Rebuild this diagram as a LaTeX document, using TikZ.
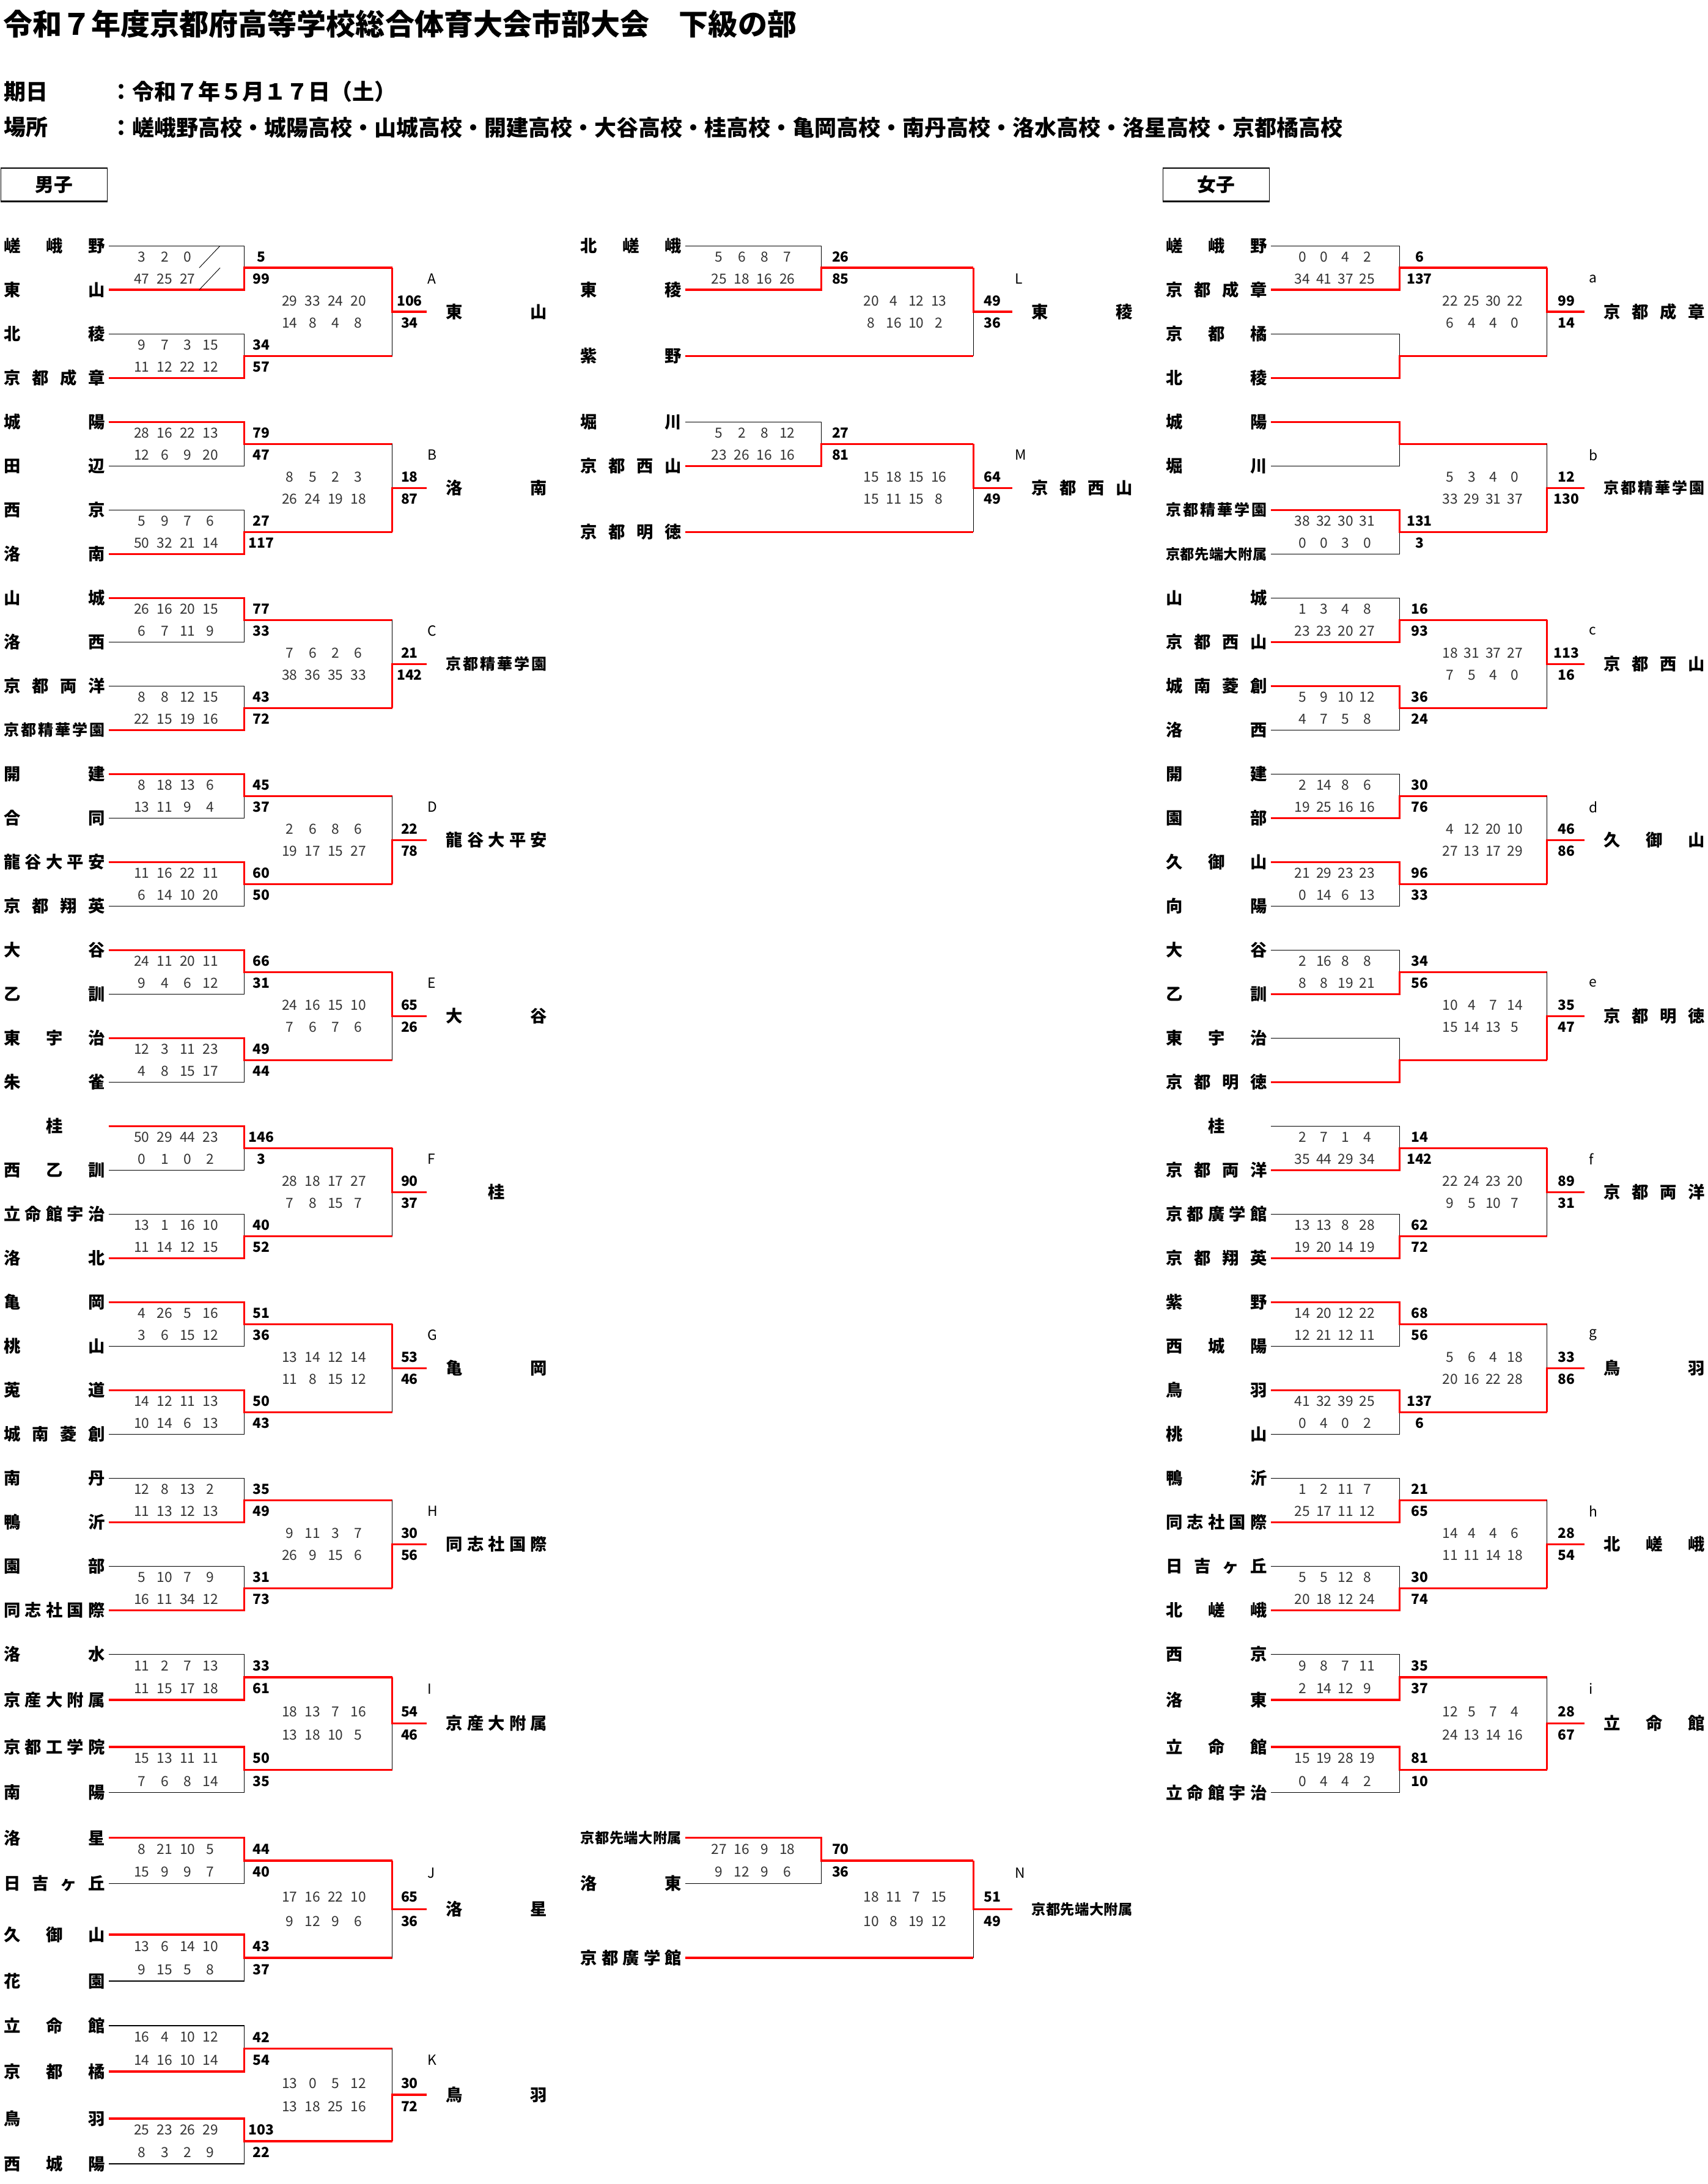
\documentclass[tikz,border=0pt]{standalone}
\usepackage{fontspec}
\setmainfont{Noto Sans CJK JP}
\usetikzlibrary{calc}

% spread a school name over the name column (smaller type for long names)
\makeatletter
\newcount\nch
\def\cnt@a#1#2\@nil{\advance\nch by 1 \ifx\relax#2\relax\else\cnt@a#2\@nil\fi}
\def\spr@a#1#2\@nil{#1\ifx\relax#2\relax\else\hfill\spr@a#2\@nil\fi}
\def\spr@top#1#2\@nil{\ifx\relax#2\relax\hfill#1\hfill\else\spr@a#1#2\@nil\fi}
\newcommand\spread[1]{%
  \nch=0 \expandafter\cnt@a#1\@nil
  \ifnum\nch>6 \fontsize{10.2}{12}\selectfont\else\ifnum\nch>5 \fontsize{11}{13}\selectfont\fi\fi
  \makebox[72.5pt][s]{\expandafter\spr@top#1\@nil}}
\makeatother

% y of a node or coordinate, in picture units
\newdimen\gy
\newcommand\getY[2]{\pgfextracty{\gy}{\pgfpointanchor{#1}{center}}\pgfmathsetmacro#2{-\gy}}

% first round: top team, bottom team, winner (1/2), sets top, sets bottom, total top, total bottom
\newcommand\rone[7]{%
  \getY{#1}\ya \getY{#2}\yb
  \pgfmathsetmacro\ym{(\ya+\yb)/2}
  \pgfmathsetmacro\yq{(\yb-\ya)/4}
  \coordinate (#1-j) at (\xc,\ym);
  \draw[lose] ([xshift=2.5]#1.east) -- (\xb,\ya) -- (\xb,\yb) -- ([xshift=2.5]#2.east);
  \ifnum#3=1\relax
    \draw[win] ([xshift=2.5]#1.east) -- (\xb,\ya) -- (\xb,\ym) -- (#1-j);
  \else
    \draw[win] ([xshift=2.5]#2.east) -- (\xb,\yb) -- (\xb,\ym) -- (#1-j);
  \fi
  \foreach \sv [count=\kk from 0] in {#4} \node[setno] at ({\sA+\kk*\sd},{\ya+\yq}) {\sv};
  \foreach \sv [count=\kk from 0] in {#5} \node[setno] at ({\sA+\kk*\sd},{\ya+3*\yq}) {\sv};
  \node[totno] at (\tA,{\ya+\yq}) {#6};
  \node[totno] at (\tA,{\ya+3*\yq}) {#7};
}

% team that goes straight to the second round
\newcommand\bye[1]{%
  \getY{#1}\ya
  \coordinate (#1-j) at (\xc,\ya);
  \draw[win] ([xshift=2.5]#1.east) -- (#1-j);
}

% second round: top junction, bottom junction, winner (1/2), sets top, sets bottom, total top, total bottom, label, winner name
\newcommand\rtwo[9]{%
  \getY{#1}\ya \getY{#2}\yb
  \pgfmathsetmacro\ym{(\ya+\yb)/2}
  \pgfmathsetmacro\yq{(\yb-\ya)/8}
  \node[tname] (#8-w) at (\xw,\ym) {\spread{#9}};
  \draw[lose] (#1) -- (#2);
  \ifnum#3=1\relax
    \draw[win] (#1) -- (\xc,\ym) -- ([xshift=-13.5]#8-w.west);
  \else
    \draw[win] (#2) -- (\xc,\ym) -- ([xshift=-13.5]#8-w.west);
  \fi
  \node[lbl] at (\xl,{\ya+\yq}) {#8};
  \foreach \sv [count=\kk from 0] in {#4} \node[setno] at ({\sB+\kk*\se},{\ym-\yq}) {\sv};
  \foreach \sv [count=\kk from 0] in {#5} \node[setno] at ({\sB+\kk*\se},{\ym+\yq}) {\sv};
  \node[totno] at (\tB,{\ym-\yq}) {#6};
  \node[totno] at (\tB,{\ym+\yq}) {#7};
}

\begin{document}
\begin{tikzpicture}[x=1pt, y=-1pt,
  tname/.style={anchor=west, inner sep=0pt, font=\bfseries\fontsize{12}{14}\selectfont},
  setno/.style={inner sep=0pt, text=black!80, font=\fontsize{10}{12}\selectfont},
  totno/.style={inner sep=0pt, font=\bfseries\fontsize{10}{12}\selectfont},
  lbl/.style={anchor=west, inner sep=0pt, font=\fontsize{10}{12}\selectfont},
  hdr/.style={anchor=west, inner sep=0pt, font=\bfseries\fontsize{15.8}{18}\selectfont},
  sexbox/.style={draw, line width=0.4pt, minimum width=76.5pt, minimum height=23.5pt, inner sep=0pt, font=\bfseries\fontsize{13.5}{16}\selectfont},
  lose/.style={black, line width=0.5pt},
  win/.style={winred, line width=1.5pt}]

  \definecolor{winred}{RGB}{255,0,0}

  % page
  \fill[white] (0,0) rectangle (1225.7,1568);
  \useasboundingbox (0,0) rectangle (1225.7,1568);

  % header
  \node[anchor=west, inner sep=0pt, font=\bfseries\fontsize{21.1}{24}\selectfont] (title) at (2,17.2)
    {令和７年度京都府高等学校総合体育大会市部大会　下級の部};
  \node[hdr] (datek) at (2.5,65.8) {期日};
  \node[hdr] (datev) at (79,65.8) {：令和７年５月１７日（土）};
  \node[hdr] (placek) at (2.5,91.4) {場所};
  \node[hdr] (placev) at (79,91.4) {：嵯峨野高校・城陽高校・山城高校・開建高校・大谷高校・桂高校・亀岡高校・南丹高校・洛水高校・洛星高校・京都橘高校};

  \node[sexbox] (boys) at (38.75,132.7) {男子};
  \node[sexbox] (girls) at (873,132.7) {女子};
  \draw[line width=1pt] (boys.north west) -- (boys.north east) (boys.south west) -- (boys.south east);
  \draw[line width=1pt] (girls.north west) -- (girls.north east) (girls.south west) -- (girls.south east);

  % ---------------- boys, left column ----------------
  \foreach \i/\y/\n in {0/176.5/嵯峨野, 1/208.1/東山, 2/239.7/北稜, 3/271.3/京都成章,
    4/302.9/城陽, 5/334.5/田辺, 6/366.1/西京, 7/397.7/洛南,
    8/429.3/山城, 9/460.9/洛西, 10/492.5/京都両洋, 11/524.1/京都精華学園,
    12/555.7/開建, 13/587.3/合同, 14/618.9/龍谷大平安, 15/650.5/京都翔英,
    16/682.1/大谷, 17/713.7/乙訓, 18/745.3/東宇治, 19/776.9/朱雀,
    20/808.5/桂, 21/840.1/西乙訓, 22/871.7/立命館宇治, 23/903.3/洛北,
    24/934.9/亀岡, 25/966.5/桃山, 26/998.1/莵道, 27/1029.7/城南菱創,
    28/1061.3/南丹, 29/1092.9/鴨沂, 30/1124.5/園部, 31/1156.1/同志社国際,
    32/1187.7/洛水, 33/1220.5/京産大附属, 34/1254.2/京都工学院, 35/1287/南陽,
    36/1319.5/洛星, 37/1352.2/日吉ヶ丘, 38/1389/久御山, 39/1422.3/花園,
    40/1454.3/立命館, 41/1487.2/京都橘, 42/1521/鳥羽, 43/1553.5/西城陽}
    \node[tname] (m\i) at (2.6,\y) {\spread{\n}};

  \def\xb{175.3}\def\xc{281.6}\def\sA{101.8}\def\sd{16.4}\def\tA{187.7}
  \def\sB{208}\def\se{16.4}\def\tB{294}\def\xl{306.8}\def\xw{320}

  \rone{m0}{m1}{2}{3,2,0}{47,25,27}{5}{99}
  \rone{m2}{m3}{2}{9,7,3,15}{11,12,22,12}{34}{57}
  \rtwo{m0-j}{m2-j}{1}{29,33,24,20}{14,8,4,8}{106}{34}{A}{東山}
  % unplayed fourth set
  \draw[lose, line width=0.4pt] (158,176.5) -- (143,192.3) (158,192.3) -- (143,208.1);

  \rone{m4}{m5}{1}{28,16,22,13}{12,6,9,20}{79}{47}
  \rone{m6}{m7}{2}{5,9,7,6}{50,32,21,14}{27}{117}
  \rtwo{m4-j}{m6-j}{2}{8,5,2,3}{26,24,19,18}{18}{87}{B}{洛南}

  \rone{m8}{m9}{1}{26,16,20,15}{6,7,11,9}{77}{33}
  \rone{m10}{m11}{2}{8,8,12,15}{22,15,19,16}{43}{72}
  \rtwo{m8-j}{m10-j}{2}{7,6,2,6}{38,36,35,33}{21}{142}{C}{京都精華学園}

  \rone{m12}{m13}{1}{8,18,13,6}{13,11,9,4}{45}{37}
  \rone{m14}{m15}{1}{11,16,22,11}{6,14,10,20}{60}{50}
  \rtwo{m12-j}{m14-j}{2}{2,6,8,6}{19,17,15,27}{22}{78}{D}{龍谷大平安}

  \rone{m16}{m17}{1}{24,11,20,11}{9,4,6,12}{66}{31}
  \rone{m18}{m19}{1}{12,3,11,23}{4,8,15,17}{49}{44}
  \rtwo{m16-j}{m18-j}{1}{24,16,15,10}{7,6,7,6}{65}{26}{E}{大谷}

  \rone{m20}{m21}{1}{50,29,44,23}{0,1,0,2}{146}{3}
  \rone{m22}{m23}{2}{13,1,16,10}{11,14,12,15}{40}{52}
  \rtwo{m20-j}{m22-j}{1}{28,18,17,27}{7,8,15,7}{90}{37}{F}{桂}

  \rone{m24}{m25}{1}{4,26,5,16}{3,6,15,12}{51}{36}
  \rone{m26}{m27}{1}{14,12,11,13}{10,14,6,13}{50}{43}
  \rtwo{m24-j}{m26-j}{1}{13,14,12,14}{11,8,15,12}{53}{46}{G}{亀岡}

  \rone{m28}{m29}{2}{12,8,13,2}{11,13,12,13}{35}{49}
  \rone{m30}{m31}{2}{5,10,7,9}{16,11,34,12}{31}{73}
  \rtwo{m28-j}{m30-j}{2}{9,11,3,7}{26,9,15,6}{30}{56}{H}{同志社国際}

  \rone{m32}{m33}{2}{11,2,7,13}{11,15,17,18}{33}{61}
  \rone{m34}{m35}{1}{15,13,11,11}{7,6,8,14}{50}{35}
  \rtwo{m32-j}{m34-j}{1}{18,13,7,16}{13,18,10,5}{54}{46}{I}{京産大附属}

  \rone{m36}{m37}{1}{8,21,10,5}{15,9,9,7}{44}{40}
  \rone{m38}{m39}{1}{13,6,14,10}{9,15,5,8}{43}{37}
  \rtwo{m36-j}{m38-j}{1}{17,16,22,10}{9,12,9,6}{65}{36}{J}{洛星}

  \rone{m40}{m41}{2}{16,4,10,12}{14,16,10,14}{42}{54}
  \rone{m42}{m43}{1}{25,23,26,29}{8,3,2,9}{103}{22}
  \rtwo{m40-j}{m42-j}{2}{13,0,5,12}{13,18,25,16}{30}{72}{K}{鳥羽}

  % ---------------- boys, middle column ----------------
  \foreach \i/\y/\n in {0/176.5/北嵯峨, 1/208.1/東稜, 2/255.5/紫野,
    3/302.9/堀川, 4/334.5/京都西山, 5/381.9/京都明徳,
    6/1319.5/京都先端大附属, 7/1352.2/洛東, 8/1405.7/京都廣学館}
    \node[tname] (c\i) at (416.6,\y) {\spread{\n}};

  \def\xb{589.6}\def\xc{698.8}\def\sA{516.2}\def\sd{16.3}\def\tA{603.4}
  \def\sB{625.4}\def\se{16.2}\def\tB{712.6}\def\xl{728.5}\def\xw{740.4}

  \rone{c0}{c1}{2}{5,6,8,7}{25,18,16,26}{26}{85}
  \bye{c2}
  \rtwo{c0-j}{c2-j}{1}{20,4,12,13}{8,16,10,2}{49}{36}{L}{東稜}

  \rone{c3}{c4}{2}{5,2,8,12}{23,26,16,16}{27}{81}
  \bye{c5}
  \rtwo{c3-j}{c5-j}{1}{15,18,15,16}{15,11,15,8}{64}{49}{M}{京都西山}

  \rone{c6}{c7}{1}{27,16,9,18}{9,12,9,6}{70}{36}
  \bye{c8}
  \rtwo{c6-j}{c8-j}{1}{18,11,7,15}{10,8,19,12}{51}{49}{N}{京都先端大附属}

  % ---------------- girls, right column ----------------
  \foreach \i/\y/\n in {0/176.5/嵯峨野, 1/208.1/京都成章, 2/239.7/京都橘, 3/271.3/北稜,
    4/302.9/城陽, 5/334.5/堀川, 6/366.1/京都精華学園, 7/397.7/京都先端大附属,
    8/429.3/山城, 9/460.9/京都西山, 10/492.5/城南菱創, 11/524.1/洛西,
    12/555.7/開建, 13/587.3/園部, 14/618.9/久御山, 15/650.5/向陽,
    16/682.1/大谷, 17/713.7/乙訓, 18/745.3/東宇治, 19/776.9/京都明徳,
    20/808.5/桂, 21/840.1/京都両洋, 22/871.7/京都廣学館, 23/903.3/京都翔英,
    24/934.9/紫野, 25/966.5/西城陽, 26/998.1/鳥羽, 27/1029.7/桃山,
    28/1061.3/鴨沂, 29/1092.9/同志社国際, 30/1124.5/日吉ヶ丘, 31/1156.1/北嵯峨,
    32/1187.7/西京, 33/1220.5/洛東, 34/1254.2/立命館, 35/1287/立命館宇治}
    \node[tname] (w\i) at (836.8,\y) {\spread{\n}};

  \def\xb{1004.6}\def\xc{1110.6}\def\sA{935}\def\sd{15.5}\def\tA{1019}
  \def\sB{1041}\def\se{15.5}\def\tB{1124.4}\def\xl{1140.5}\def\xw{1151}

  \rone{w0}{w1}{2}{0,0,4,2}{34,41,37,25}{6}{137}
  \rone{w2}{w3}{2}{}{}{}{}
  \rtwo{w0-j}{w2-j}{1}{22,25,30,22}{6,4,4,0}{99}{14}{a}{京都成章}

  \rone{w4}{w5}{1}{}{}{}{}
  \rone{w6}{w7}{1}{38,32,30,31}{0,0,3,0}{131}{3}
  \rtwo{w4-j}{w6-j}{2}{5,3,4,0}{33,29,31,37}{12}{130}{b}{京都精華学園}

  \rone{w8}{w9}{2}{1,3,4,8}{23,23,20,27}{16}{93}
  \rone{w10}{w11}{1}{5,9,10,12}{4,7,5,8}{36}{24}
  \rtwo{w8-j}{w10-j}{1}{18,31,37,27}{7,5,4,0}{113}{16}{c}{京都西山}

  \rone{w12}{w13}{2}{2,14,8,6}{19,25,16,16}{30}{76}
  \rone{w14}{w15}{1}{21,29,23,23}{0,14,6,13}{96}{33}
  \rtwo{w12-j}{w14-j}{2}{4,12,20,10}{27,13,17,29}{46}{86}{d}{久御山}

  \rone{w16}{w17}{2}{2,16,8,8}{8,8,19,21}{34}{56}
  \rone{w18}{w19}{2}{}{}{}{}
  \rtwo{w16-j}{w18-j}{2}{10,4,7,14}{15,14,13,5}{35}{47}{e}{京都明徳}

  \rone{w20}{w21}{2}{2,7,1,4}{35,44,29,34}{14}{142}
  \rone{w22}{w23}{2}{13,13,8,28}{19,20,14,19}{62}{72}
  \rtwo{w20-j}{w22-j}{1}{22,24,23,20}{9,5,10,7}{89}{31}{f}{京都両洋}

  \rone{w24}{w25}{1}{14,20,12,22}{12,21,12,11}{68}{56}
  \rone{w26}{w27}{1}{41,32,39,25}{0,4,0,2}{137}{6}
  \rtwo{w24-j}{w26-j}{2}{5,6,4,18}{20,16,22,28}{33}{86}{g}{鳥羽}

  \rone{w28}{w29}{2}{1,2,11,7}{25,17,11,12}{21}{65}
  \rone{w30}{w31}{2}{5,5,12,8}{20,18,12,24}{30}{74}
  \rtwo{w28-j}{w30-j}{2}{14,4,4,6}{11,11,14,18}{28}{54}{h}{北嵯峨}

  \rone{w32}{w33}{2}{9,8,7,11}{2,14,12,9}{35}{37}
  \rone{w34}{w35}{1}{15,19,28,19}{0,4,4,2}{81}{10}
  \rtwo{w32-j}{w34-j}{2}{12,5,7,4}{24,13,14,16}{28}{67}{i}{立命館}

\end{tikzpicture}
\end{document}
